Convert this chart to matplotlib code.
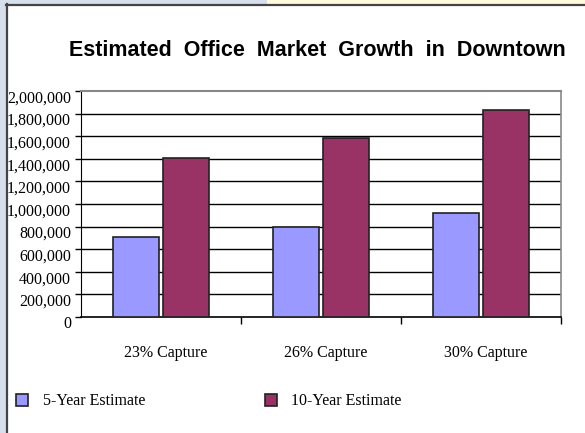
import matplotlib
matplotlib.use("Agg")
import matplotlib.pyplot as plt
import matplotlib.transforms as mtransforms
from matplotlib.patches import Rectangle
import numpy as np

W, H = 585, 433

scenarios = ["23% Capture", "26% Capture", "30% Capture"]
five_year = [706000, 798000, 921000]
ten_year = [1403000, 1586000, 1830000]
series_names = ["5-Year Estimate", "10-Year Estimate"]
y_ticks = list(range(0, 2000001, 200000))

BLUE = "#9999ff"
PLUM = "#993366"


def fx(px):
    return px / W


def fy(py):
    return 1 - py / H


fig = plt.figure(figsize=(W / 100, H / 100), dpi=100)
fig.patch.set_facecolor("white")

# slide edges behind the chart box
fig.patches.append(Rectangle((0, 0), fx(6), 1, transform=fig.transFigure,
                             facecolor="#d6dfec", edgecolor="none", zorder=-2))
fig.patches.append(Rectangle((0, fy(4)), fx(267), 4 / H, transform=fig.transFigure,
                             facecolor="#d6dfec", edgecolor="none", zorder=-2))
fig.patches.append(Rectangle((fx(267), fy(4)), 1, 4 / H, transform=fig.transFigure,
                             facecolor="#fffbdc", edgecolor="none", zorder=-2))
fig.add_artist(plt.Line2D([fx(6.5), fx(6.5)], [0, fy(4)], transform=fig.transFigure,
                          color="#444444", lw=1.6, zorder=-1))
fig.add_artist(plt.Line2D([fx(6), 1], [fy(4.5), fy(4.5)], transform=fig.transFigure,
                          color="#444444", lw=1.6, zorder=-1))

ax = fig.add_axes([fx(81), fy(317), fx(561) - fx(81), (317 - 91) / H])
x = np.arange(len(scenarios))
w = 0.29
ax.bar(x - 0.155, five_year, w, color=BLUE, edgecolor="#222222", lw=1.2,
       label=series_names[0], zorder=3)
ax.bar(x + 0.155, ten_year, w, color=PLUM, edgecolor="#222222", lw=1.2,
       label=series_names[1], zorder=3)

ax.set_xlim(-0.5, 2.5)
ax.set_ylim(0, 2000000)
ax.set_yticks(y_ticks)
ax.set_yticklabels([])
ax.tick_params(axis="y", length=4, width=1, colors="black")

# value labels sit a few pixels below their tick marks
label_shift = mtransforms.ScaledTranslation(-0.10, -0.075, fig.dpi_scale_trans)
for v in y_ticks:
    ax.text(0, v, f"{v:,}", transform=ax.get_yaxis_transform() + label_shift,
            ha="right", va="center", family="Liberation Serif", fontsize=11.5,
            zorder=5)

ax.set_xticks([0.5, 1.5, 2.5])
ax.set_xticklabels([])
ax.set_xticks(x + 0.03, minor=True)
ax.set_xticklabels(scenarios, minor=True, family="Liberation Serif", fontsize=11.5)
ax.tick_params(axis="x", which="major", length=5, width=1, direction="out")
ax.tick_params(axis="x", which="minor", length=0, pad=20)

for v in y_ticks[1:-1]:
    ax.axhline(v, color="black", lw=1, zorder=1)

ax.spines["left"].set_color("black")
ax.spines["bottom"].set_color("black")
ax.spines["bottom"].set_linewidth(1.2)
ax.spines["top"].set_color("#888888")
ax.spines["top"].set_linewidth(1.5)
ax.spines["right"].set_color("#888888")
ax.spines["right"].set_linewidth(1.2)

fig.text(fx(317), fy(51), "Estimated  Office  Market  Growth  in  Downtown",
         ha="center", va="center", family="Liberation Sans", fontweight="bold",
         fontsize=15.5)

fig.legend(loc="upper left", bbox_to_anchor=(fx(10), fy(387)), ncol=2,
           frameon=False, prop={"family": "Liberation Serif", "size": 11.5},
           handlelength=0.75, handleheight=0.75, handletextpad=0.9,
           columnspacing=7.5, borderaxespad=0)

fig.savefig("out.png", dpi=100)
